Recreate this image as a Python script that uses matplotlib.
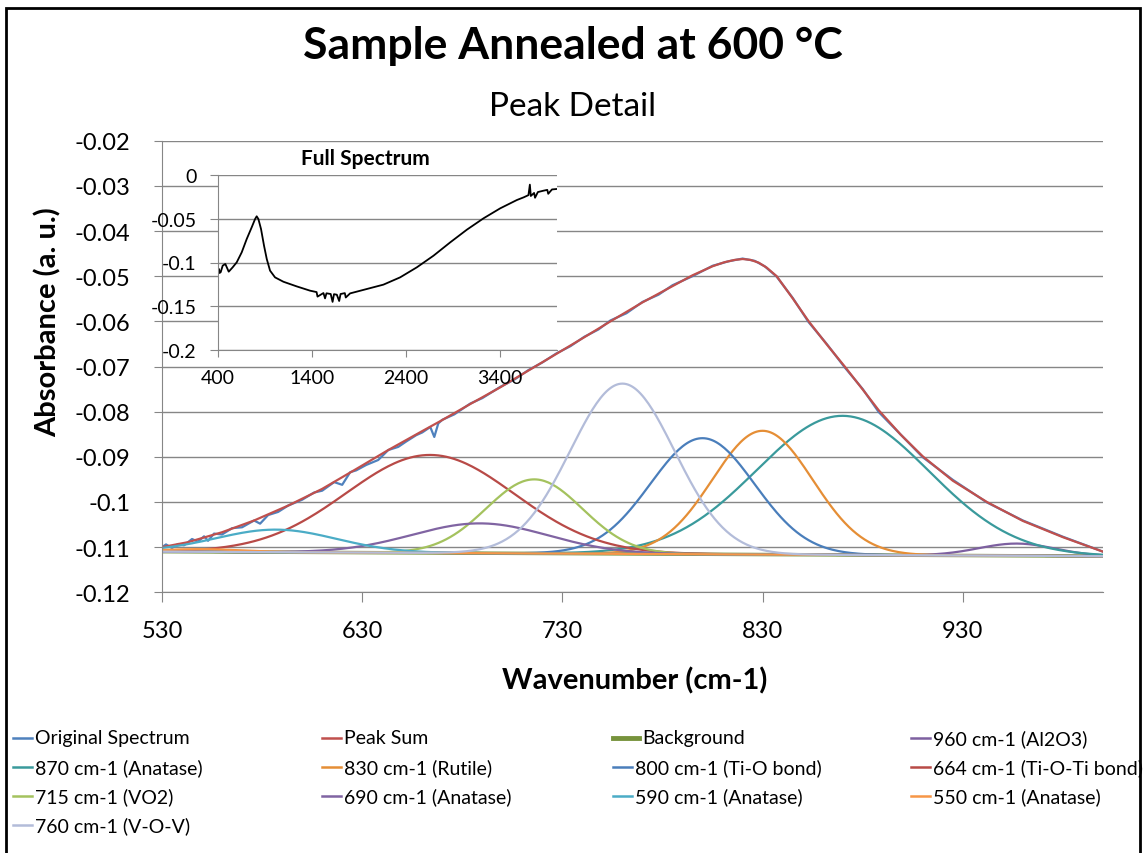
import numpy as np
import matplotlib
matplotlib.use("Agg")
import matplotlib.pyplot as plt
from matplotlib.lines import Line2D
from matplotlib.patches import Rectangle

plt.rcParams['font.family'] = ['Lato', 'DejaVu Sans']

# ---- data ----
# peak sum (fit envelope)
sum_x = [530, 543, 560, 576, 593, 610, 627, 643, 660, 669, 684, 699, 713, 727, 741, 754,
         770, 785, 795, 805, 811, 816, 820, 824, 828, 832, 837, 845, 853, 862, 871, 880,
         888, 899, 910, 925, 942, 960, 980, 1000]
sum_y = [-0.1100, -0.1089, -0.1067, -0.1041, -0.1008, -0.0971, -0.0927, -0.0885, -0.0843,
         -0.0821, -0.0783, -0.0746, -0.0709, -0.0672, -0.0635, -0.0600, -0.0558, -0.0522,
         -0.0498, -0.0478, -0.0469, -0.0464, -0.0462, -0.0464, -0.0470, -0.0481, -0.0500,
         -0.0549, -0.0600, -0.0651, -0.0700, -0.0751, -0.0797, -0.0851, -0.0899, -0.0953,
         -0.1000, -0.1042, -0.1078, -0.1110]

# measured spectrum (noisy)
orig_x = [530, 532, 535, 538, 541, 545, 548, 551, 553, 556, 560, 565, 570, 576, 579, 583,
          588, 593, 600, 606, 610, 616, 620, 624, 627, 632, 638, 643, 648, 652, 657, 660,
          664, 666, 668, 670, 676, 684, 690, 699, 706, 713, 720, 727, 734, 741, 748, 754,
          762, 770, 778, 785, 795, 805, 813, 820, 826, 831, 837, 845, 853, 862, 871, 880,
          888, 899, 910, 925, 942, 960, 980, 1000]
orig_y = [-0.1100, -0.1094, -0.1102, -0.1093, -0.1096, -0.1082, -0.1088, -0.1076, -0.1086,
          -0.1070, -0.1072, -0.1058, -0.1056, -0.1041, -0.1048, -0.1029, -0.1022, -0.1008,
          -0.0995, -0.0979, -0.0975, -0.0956, -0.0962, -0.0934, -0.0930, -0.0918, -0.0907,
          -0.0885, -0.0878, -0.0866, -0.0852, -0.0846, -0.0834, -0.0856, -0.0826, -0.0818,
          -0.0806, -0.0782, -0.0770, -0.0745, -0.0729, -0.0708, -0.0691, -0.0671, -0.0655,
          -0.0634, -0.0618, -0.0598, -0.0582, -0.0557, -0.0541, -0.0520, -0.0500, -0.0477,
          -0.0467, -0.0461, -0.0466, -0.0478, -0.0501, -0.0548, -0.0602, -0.0650, -0.0702,
          -0.0750, -0.0801, -0.0851, -0.0901, -0.0951, -0.1001, -0.1041, -0.1077, -0.1110]

# background (straight line)
bg_x = [530, 1000]
bg_y = [-0.1110, -0.1120]

# fitted peaks: centre, height above background, gaussian width
peak_names = ["960 cm-1 (Al2O3)", "870 cm-1 (Anatase)", "830 cm-1 (Rutile)",
              "800 cm-1 (Ti-O bond)", "664 cm-1 (Ti-O-Ti bond)", "715 cm-1 (VO2)",
              "690 cm-1 (Anatase)", "590 cm-1 (Anatase)", "550 cm-1 (Anatase)",
              "760 cm-1 (V-O-V)"]
peak_center = [957, 870, 830, 800, 664, 716, 689, 587, 550, 760]
peak_height = [0.0027, 0.0308, 0.0274, 0.0257, 0.0217, 0.0164, 0.0066, 0.0050, 0.0006, 0.0377]
peak_width = [19, 43, 25, 26, 42, 24, 34, 30, 20, 26]
peak_colors = ["#7D60A0", "#3A9A9C", "#E58E36", "#4A7EBB", "#B84A47", "#A4C25E",
               "#8064A2", "#4BACC6", "#F79646", "#B3BCD9"]

# full spectrum for the inset
full_x = [400, 407, 414, 420, 432, 453, 481, 517, 559, 602, 655, 708, 761, 797, 814, 832,
          860, 892, 921, 956, 1009, 1098, 1239, 1381, 1450, 1460, 1523, 1540, 1555, 1600,
          1620, 1635, 1665, 1690, 1705, 1750, 1760, 1806, 1983, 2160, 2337, 2515, 2692,
          2869, 3046, 3223, 3400, 3577, 3650, 3700, 3715, 3725, 3760, 3770, 3800, 3861,
          3900, 3910, 3950, 4000]
full_y = [-0.119, -0.108, -0.1075, -0.112, -0.111, -0.1036, -0.1017, -0.1105, -0.1055,
          -0.0998, -0.0884, -0.0732, -0.0598, -0.0503, -0.0472, -0.0503, -0.0617, -0.0808,
          -0.0960, -0.1093, -0.1170, -0.1220, -0.1273, -0.1322, -0.1338, -0.1390, -0.1349,
          -0.1410, -0.1352, -0.1360, -0.1450, -0.1362, -0.1368, -0.1440, -0.1360, -0.1350,
          -0.1400, -0.1353, -0.1303, -0.1253, -0.1170, -0.1055, -0.0922, -0.0770, -0.0625,
          -0.0495, -0.0381, -0.0286, -0.0255, -0.0230, -0.0110, -0.0240, -0.0205, -0.0260,
          -0.0195, -0.0179, -0.0170, -0.0215, -0.0165, -0.0160]

main_xticks = [530, 630, 730, 830, 930]
main_yticks = [-0.12, -0.11, -0.1, -0.09, -0.08, -0.07, -0.06, -0.05, -0.04, -0.03, -0.02]
main_ylabels = ["-0.12", "-0.11", "-0.1", "-0.09", "-0.08", "-0.07", "-0.06", "-0.05",
                "-0.04", "-0.03", "-0.02"]
inset_xticks = [400, 1400, 2400, 3400]
inset_yticks = [0, -0.05, -0.1, -0.15, -0.2]
inset_ylabels = ["0", "-0.05", "-0.1", "-0.15", "-0.2"]

W, H = 1146, 854
GRID = "#868686"

fig = plt.figure(figsize=(W / 100, H / 100), dpi=100)


def fx(px):
    return px / W


def fy(py):
    return 1 - py / H


# ---- main axes ----
ax = fig.add_axes([fx(162), fy(593.3), fx(1103) - fx(162), fy(141.7) - fy(593.3)])
x = np.arange(530, 1001, 1.0)
bg = np.interp(x, bg_x, bg_y)

ax.plot(orig_x, orig_y, color="#4F81BD", lw=1.6)
ax.plot(sum_x, sum_y, color="#C0504D", lw=1.6)
ax.plot(bg_x, bg_y, color="#77933C", lw=2.5)
for c, h, w, col in zip(peak_center, peak_height, peak_width, peak_colors):
    ax.plot(x, bg + h * np.exp(-0.5 * ((x - c) / w) ** 2), color=col, lw=1.6)

ax.set_xlim(530, 1000)
ax.set_ylim(-0.12, -0.02)
ax.set_xticks(main_xticks)
ax.set_yticks(main_yticks)
ax.set_yticklabels(main_ylabels)
ax.grid(axis="y", color=GRID, lw=1.0)
ax.set_axisbelow(True)
for s in ["top", "right"]:
    ax.spines[s].set_visible(False)
for s in ["left", "bottom"]:
    ax.spines[s].set_color(GRID)
ax.tick_params(axis="y", length=6, color=GRID, labelsize=17, pad=17)
ax.tick_params(axis="x", length=7, color=GRID, labelsize=17, pad=13)

fig.text(fx(635), fy(681), "Wavenumber (cm-1)", fontsize=21, fontweight="bold",
         ha="center", va="center")
fig.text(fx(48), fy(322), "Absorbance (a. u.)", fontsize=21, fontweight="bold",
         rotation=90, ha="center", va="center")
fig.text(fx(573), fy(46), "Sample Annealed at 600 °C", fontsize=32, fontweight="bold",
         ha="center", va="center")
fig.text(fx(573), fy(107), "Peak Detail", fontsize=24, ha="center", va="center")

# ---- inset ----
axi = fig.add_axes([fx(217.7), fy(351), fx(556.7) - fx(217.7), fy(176) - fy(351)],
                   facecolor="white")
axi.plot(full_x, full_y, color="black", lw=1.3)
axi.set_xlim(400, 4000)
axi.set_ylim(-0.2, 0)
axi.set_xticks(inset_xticks)
axi.set_yticks(inset_yticks)
axi.set_yticklabels(inset_ylabels)
axi.grid(axis="y", color=GRID, lw=1.0)
axi.set_axisbelow(True)
for s in ["top", "right"]:
    axi.spines[s].set_visible(False)
for s in ["left", "bottom"]:
    axi.spines[s].set_color(GRID)
axi.tick_params(axis="y", length=6, color=GRID, labelsize=14, pad=9)
axi.tick_params(axis="x", length=5, color=GRID, labelsize=14, pad=9)
fig.text(fx(365), fy(159), "Full Spectrum", fontsize=15, fontweight="bold",
         ha="center", va="center")

# ---- legend below the chart ----
leg_names = ["Original Spectrum", "Peak Sum", "Background"] + peak_names
leg_colors = ["#4F81BD", "#C0504D", "#77933C"] + peak_colors
col_x = [13, 322, 613, 911]
row_y = [739, 768, 797, 826]
for i, (name, col) in enumerate(zip(leg_names, leg_colors)):
    x0 = col_x[i % 4]
    y0 = row_y[i // 4]
    lw = 3.5 if name == "Background" else 1.8
    hl = 26 if name == "Background" else 19
    fig.add_artist(Line2D([fx(x0), fx(x0 + hl)], [fy(y0), fy(y0)], color=col, lw=lw,
                          transform=fig.transFigure))
    fig.text(fx(x0 + hl + 3), fy(y0), name, fontsize=14, ha="left", va="center")

# chart border
fig.add_artist(Rectangle((fx(6), fy(900)), fx(1140) - fx(6), fy(9) - fy(900),
                         transform=fig.transFigure, fill=False, ec="black", lw=2))

fig.savefig("out.png", dpi=100)
